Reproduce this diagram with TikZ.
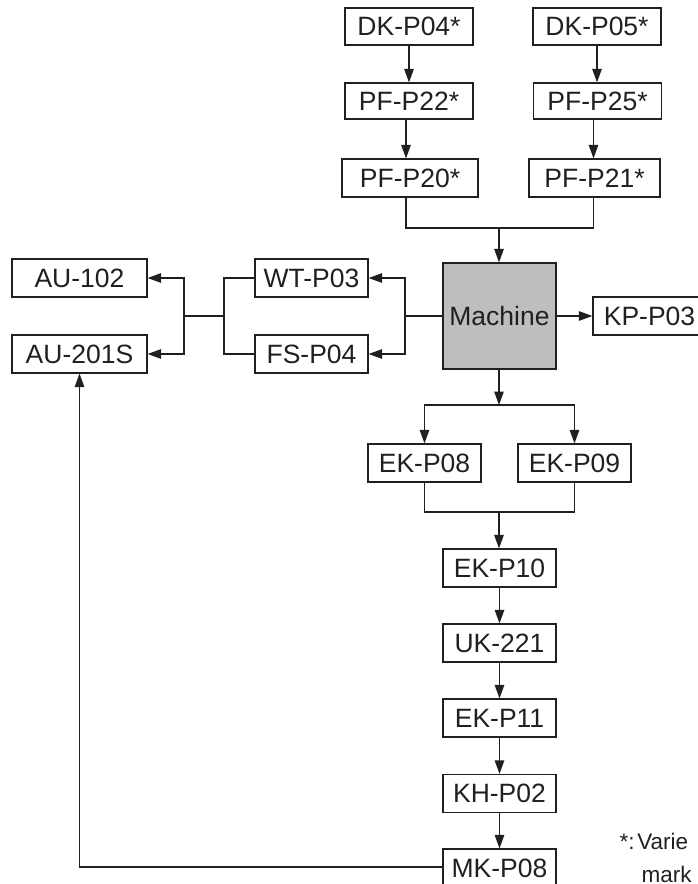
\documentclass[tikz,border=0pt]{standalone}
\usepackage{fontspec}
\setmainfont{Liberation Sans}
\usetikzlibrary{arrows.meta,calc}
\definecolor{ink}{HTML}{231F20}
\definecolor{machgray}{HTML}{BCBEC0}
\newcommand\boxfnt{\fontsize{26.5}{30}\selectfont}
\newcommand\notefnt{\fontsize{22.5}{30}\selectfont}
\tikzset{
  box/.style={draw=ink, line width=1.2pt, fill=white, inner sep=0pt,
    minimum height=38pt, font=\boxfnt, text=ink},
  arr/.style={draw=ink, line width=1.2pt, -{Triangle[length=13.5pt,width=9.5pt]}},
  ln/.style={draw=ink, line width=1.2pt},
  note/.style={anchor=base west, inner sep=0pt, font=\notefnt, text=ink}
}
\begin{document}
\begin{tikzpicture}[x=1pt,y=1pt]
\useasboundingbox (0,0) rectangle (698,-884);
\clip (0,0) rectangle (698,-884);
% nodes
\node[box, minimum width=128pt, minimum height=37pt] (DK04) at (409,-26.5) {DK-P04*};
\node[box, minimum width=128pt, minimum height=37pt] (DK05) at (597,-26.5) {DK-P05*};
\node[box, minimum width=128pt, minimum height=36pt] (PF22) at (409,-101) {PF-P22*};
\node[box, minimum width=128pt, minimum height=36pt] (PF25) at (597.5,-101) {PF-P25*};
\node[box, minimum width=136pt] (PF20) at (410,-178) {PF-P20*};
\node[box, minimum width=131pt] (PF21) at (594.5,-178) {PF-P21*};
\node[box, fill=machgray, minimum width=113pt, minimum height=106pt] (M) at (499.5,-316) {Machine};
\node[box, minimum width=113pt] (WT) at (311.5,-278) {WT-P03};
\node[box, minimum width=113pt] (FS) at (311.5,-354) {FS-P04};
\node[box, minimum width=135pt] (AU1) at (79.5,-278) {AU-102};
\node[box, minimum width=135pt] (AU2) at (79.5,-354) {AU-201S};
\node[box, minimum width=113pt] (KP) at (649.5,-316) {KP-P03};
\node[box, minimum width=113pt] (EK08) at (424.5,-463) {EK-P08};
\node[box, minimum width=113pt] (EK09) at (574.5,-463) {EK-P09};
\node[box, minimum width=113pt] (EK10) at (499.5,-568) {EK-P10};
\node[box, minimum width=113pt] (UK) at (499.5,-643) {UK-221};
\node[box, minimum width=113pt] (EK11) at (499.5,-718) {EK-P11};
\node[box, minimum width=113pt] (KH) at (499.5,-793.5) {KH-P02};
\node[box, minimum width=113pt] (MK) at (499.5,-868) {MK-P08};
% junctions
\coordinate (j1) at (499,-228);
\coordinate (j2) at (405,-316);
\coordinate (j3) at (224,-316);
\coordinate (j4) at (184,-316);
\coordinate (j5) at (499,-405);
\coordinate (j6) at (499,-512);
% top chains
\draw[arr] (DK04.south) -- (DK04.south |- PF22.north);
\draw[arr] ([xshift=-3pt]PF22.south) -- ([xshift=-3pt]PF22.south |- PF20.north);
\draw[arr] (DK05.south) -- (DK05.south |- PF25.north);
\draw[arr] ([xshift=-4pt]PF25.south) -- ([xshift=-4pt]PF25.south |- PF21.north);
\draw[ln] ([xshift=-4pt]PF20.south) |- (j1) -| ([xshift=-1pt]PF21.south);
\draw[arr] (j1) -- (j1 |- M.north);
% left branches
\draw[ln] (M.west) -- (j2);
\draw[arr] (j2) |- (WT.east);
\draw[arr] (j2) |- (FS.east);
\draw[ln] (WT.west) -| (j3) |- (FS.west);
\draw[ln] (j3) -- (j4);
\draw[arr] (j4) |- (AU1.east);
\draw[arr] (j4) |- (AU2.east);
% right
\draw[arr] (M.east) -- (KP.west);
% down
\draw[arr] (M.south -| j5) -- (j5);
\draw[arr] (j5) -| (EK08.north);
\draw[arr] (j5) -| (EK09.north);
\draw[ln] (EK08.south) |- (j6) -| (EK09.south);
\draw[arr] (j6) -- (j6 |- EK10.north);
\draw[arr] (EK10) -- (UK);
\draw[arr] (UK) -- (EK11);
\draw[arr] (EK11) -- (KH);
\draw[arr] (KH) -- (MK);
% feedback
\draw[arr] ([yshift=1pt]MK.west) -| (AU2.south);
% note
\node[note] (note1) at (619.5,-849) {\spaceskip=0.5pt\relax *: Varie};
\node[note] (note2) at (641.5,-882) {mark};
\end{tikzpicture}
\end{document}
